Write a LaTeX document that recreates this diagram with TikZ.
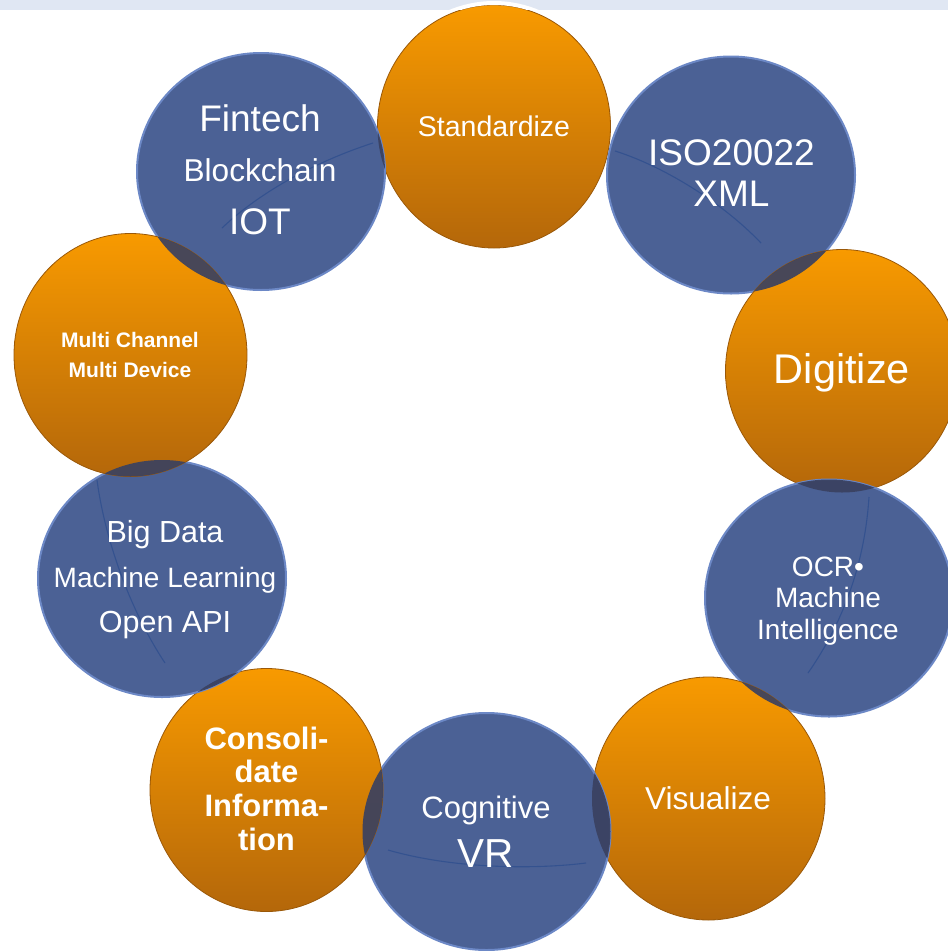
\documentclass[tikz,border=0pt]{standalone}
\usepackage{fontspec}
\setmainfont{Liberation Sans}
\usetikzlibrary{shapes.geometric}

\definecolor{ora}{HTML}{F89A00}
\definecolor{orad}{HTML}{B4670A}
\definecolor{orar}{HTML}{9A5808}
\definecolor{blu}{HTML}{4B6195}
\definecolor{blur}{HTML}{6C88C6}
\definecolor{curv}{HTML}{34528F}
\definecolor{lens}{HTML}{3A4160}
\definecolor{band}{HTML}{E0E7F3}

\begin{document}
\begin{tikzpicture}[x=1pt, y=-1pt,
    oball/.style={ellipse, minimum width=233pt, minimum height=243pt, inner sep=0pt,
      top color=ora, bottom color=orad, draw=orar, line width=0.8pt},
    bball/.style={ellipse, minimum width=248pt, minimum height=237pt, inner sep=0pt,
      fill=blu, draw=blur, line width=2pt},
    curve/.style={curv, line width=1.1pt},
    lbl/.style={text=white, align=center}]
  \useasboundingbox (0,0) rectangle (948,951);
  % Fondo
  \fill[band] (0,0) rectangle (948,9.5);

  % Circulos
  \node[oball] (std) at (494,126.5) {};
  \node[bball] (fin) at (261,171.5) {};
  \node[bball] (iso) at (731,175) {};
  \node[oball] (dig) at (842,371) {};
  \node[bball] (ocr) at (829,598) {};
  \node[oball] (vis) at (708.5,798.5) {};
  \node[bball] (cog) at (486.5,831.5) {};
  \node[oball] (con) at (266.5,790) {};
  \node[bball] (big) at (162,578.5) {};
  \node[oball] (mul) at (130.5,355) {};

  % Borde blanco
  \begin{scope}
    \clip (0,0) rectangle (948,9.5);
    \draw[white, line width=4pt] (std) ellipse [x radius=118.5, y radius=123.5];
  \end{scope}

  % Curvas
  \draw[curve] (222,228) .. controls (262,190) and (320,160) .. (373,143);
  \draw[curve] (615,151) .. controls (660,165) and (720,200) .. (761,243);
  \draw[curve] (97,480) .. controls (105,540) and (130,610) .. (165,663);
  \draw[curve] (869,497) .. controls (865,560) and (845,620) .. (808,673);
  \draw[curve] (388,850) .. controls (450,868) and (530,870) .. (586,863);

  % Cruces
  \foreach \o/\b in {std/fin,std/iso,mul/fin,mul/big,con/big,con/cog,vis/cog,vis/ocr,dig/ocr,dig/iso}{
    \begin{scope}
      \clip (\o) ellipse [x radius=116.5, y radius=121.5];
      \fill[lens, opacity=0.92] (\b) ellipse [x radius=124, y radius=118.5];
    \end{scope}
  }

  % Textos
  \node[lbl, font=\fontsize{28.5}{34}\selectfont] (stdt) at (494,126) {Standardize};
  \node[lbl, font=\fontsize{37}{50}\selectfont] (fint) at (260,170)
    {Fintech\\{\fontsize{31.6}{50}\selectfont Blockchain}\\[3.3pt]IOT};
  \node[lbl, font=\fontsize{37}{41}\selectfont] (isot) at (731.5,173) {ISO20022\\XML};
  \node[lbl, font=\fontsize{41.5}{50}\selectfont] (digt) at (842,372.5) {Digitize};
  \node[lbl, font=\fontsize{28}{31.5}\selectfont] (ocrt) at (828,601)
    {OCR•\\Machine\\Intelligence};
  \node[lbl, font=\fontsize{31.6}{38}\selectfont] (vist) at (708,798) {Visualize};
  \node[lbl, font=\fontsize{40.5}{49}\selectfont] (cogt) at (486,832)
    {{\fontsize{31}{49}\selectfont Cognitive}\\VR};
  \node[lbl, font=\fontsize{31}{33.7}\selectfont\bfseries] (cont) at (266.5,788.5)
    {Consoli-\\date\\Informa-\\tion};
  \node[lbl, font=\fontsize{21}{30}\selectfont\bfseries] (mult) at (130,354.5)
    {Multi Channel\\Multi Device};
  \node[lbl, font=\fontsize{30.5}{45}\selectfont] (bigt) at (165,580)
    {Big Data\\{\fontsize{28}{45}\selectfont Machine Learning}\\Open API};
\end{tikzpicture}
\end{document}
